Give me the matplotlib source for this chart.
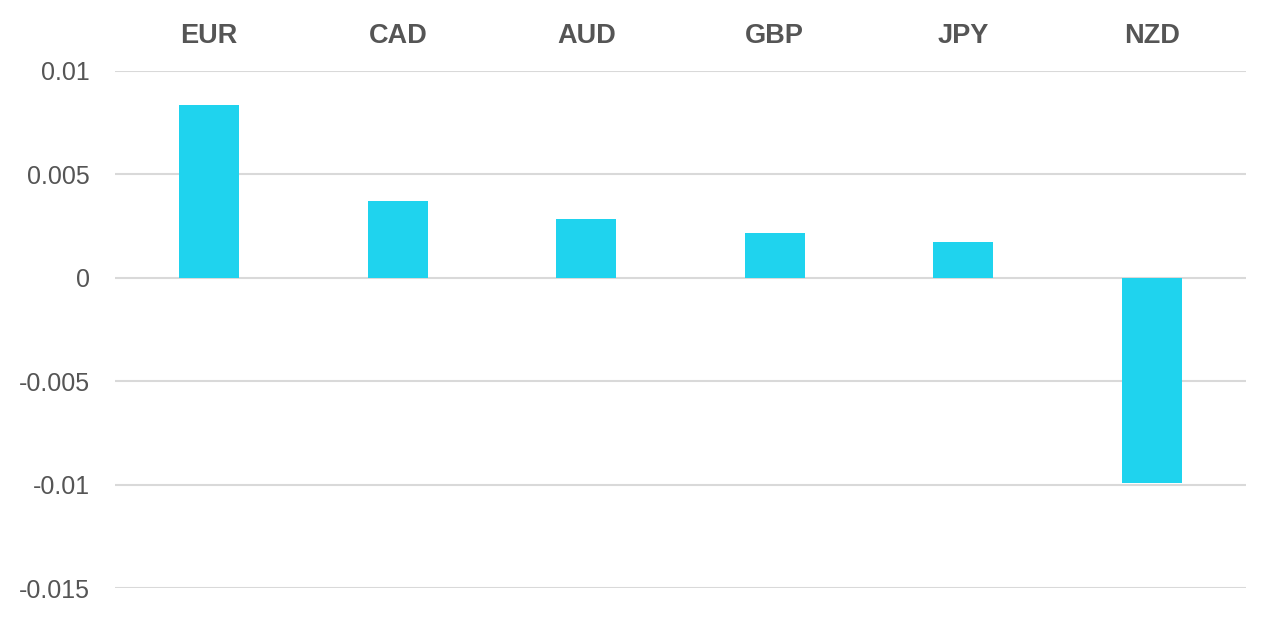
import numpy as np
import matplotlib
matplotlib.use("Agg")
from matplotlib import pyplot as plt

currencies = ["EUR", "CAD", "AUD", "GBP", "JPY", "NZD"]
values = [0.00837, 0.00372, 0.00285, 0.00218, 0.00174, -0.00991]
yticks = [0.01, 0.005, 0, -0.005, -0.01, -0.015]
ytick_labels = ["0.01", "0.005", "0", "-0.005", "-0.01", "-0.015"]

plt.rcParams['font.family'] = ['Liberation Sans', 'DejaVu Sans']

fig = plt.figure(figsize=(12.8, 6.23), dpi=100)
ax = fig.add_axes([115/1280, 1 - 588/623, (1246 - 115)/1280, (588 - 71)/623])

x = np.arange(len(currencies))
ax.bar(x, values, width=0.32, color="#1fd3ee", zorder=3)

ax.set_xlim(-0.5, len(currencies) - 0.5)
ax.set_ylim(-0.015, 0.01)
ax.set_yticks(yticks)
ax.set_yticklabels(ytick_labels, fontsize=18, color="#555555")
ax.grid(axis="y", color="#d9d9d9", linewidth=1.5, zorder=0)
ax.tick_params(axis="y", length=0, pad=18)

ax.xaxis.tick_top()
ax.set_xticks(x)
ax.set_xticklabels(currencies, fontsize=19.5, fontweight="bold", color="#555555")
ax.tick_params(axis="x", length=0, pad=16)

for s in ax.spines.values():
    s.set_visible(False)

plt.savefig("out.png", dpi=100)
